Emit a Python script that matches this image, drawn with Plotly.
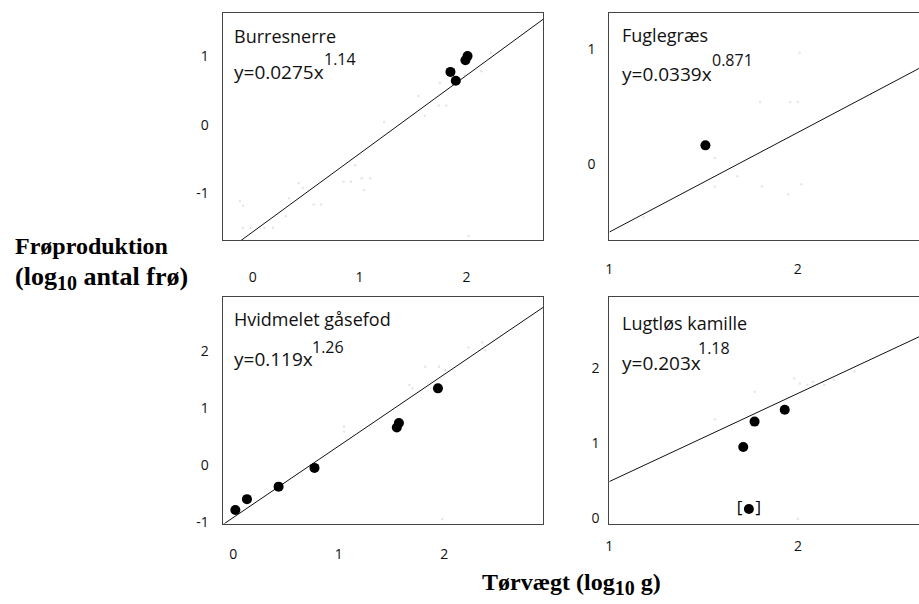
import numpy as np
import plotly.graph_objects as go

# ---- Panel data (log10 dry weight vs log10 seed production) ----
names = ["Burresnerre", "Fuglegræs", "Hvidmelet gåsefod", "Lugtløs kamille"]
coef_a = [0.0275, 0.0339, 0.119, 0.203]
coef_b = [1.14, 0.871, 1.26, 1.18]
coef_a_txt = ["0.0275", "0.0339", "0.119", "0.203"]
coef_b_txt = ["1.14", "0.871", "1.26", "1.18"]

# highlighted observations
burr_x = [1.85, 1.90, 1.99, 2.01]
burr_y = [0.77, 0.64, 0.94, 1.00]
fugl_x = [1.51]
fugl_y = [0.16]
hvid_x = [0.02, 0.13, 0.43, 0.77, 1.55, 1.57, 1.94]
hvid_y = [-0.79, -0.60, -0.38, -0.05, 0.66, 0.74, 1.35]
lugt_x = [1.71, 1.77, 1.93]
lugt_y = [0.95, 1.29, 1.45]
lugt_brk_x = [1.74]
lugt_brk_y = [0.12]

# background observations (faint)
burr_bg_x = [-0.12, -0.09, -0.09, -0.02, 0.11, 0.19, 0.31, 0.34, 0.43, 0.47, 0.57, 0.64,
             0.85, 0.92, 0.96, 1.02, 1.04, 1.10, 1.23, 1.55, 1.61, 1.74, 1.81, 1.75,
             1.98, 2.14, 2.23, 2.02]
burr_bg_y = [-1.11, -1.18, -1.50, -1.50, -1.50, -1.50, -1.33, -1.07, -0.85, -0.92, -1.16, -1.16,
             -0.83, -0.83, -0.59, -0.78, -0.95, -0.78, 0.04, 0.42, 0.13, 0.28, 0.28, 0.61,
             0.73, 0.78, 1.05, -1.62]
fugl_bg_x = [1.18, 1.56, 1.56, 1.68, 1.80, 1.81, 1.96, 2.00, 2.01, 1.95, 2.02, 2.39]
fugl_bg_y = [-0.47, 0.05, -0.20, -0.11, 0.54, -0.20, 0.54, 0.54, 0.97, -0.27, -0.18, 0.61]
hvid_bg_x = [1.05, 1.05, 1.67, 1.70, 1.82, 1.95, 2.01, 2.23, 2.36, 2.39, 1.98]
hvid_bg_y = [0.68, 0.59, 1.41, 1.35, 1.73, 1.73, 1.67, 2.07, 2.16, 2.02, -0.95]
lugt_bg_x = [1.56, 1.77, 1.98, 2.01, 2.05, 2.08, 2.14, 2.19, 2.30, 2.00]
lugt_bg_y = [1.32, 1.69, 1.87, 1.80, 1.78, 1.82, 1.78, 1.85, 1.96, -0.01]

# axis settings per panel
x_ranges = [[-0.28, 2.72], [1.0, 2.644], [-0.10, 2.94], [1.0, 2.642]]
y_ranges = [[-1.68, 1.63], [-0.67, 1.32], [-1.03, 2.96], [-0.075, 2.96]]
x_ticks = [[0, 1, 2], [1, 2], [0, 1, 2], [1, 2]]
y_ticks = [[-1, 0, 1], [0, 1], [-1, 0, 1, 2], [0, 1, 2]]

x_domains = [[0.2390, 0.5896], [0.6616, 1.0], [0.2390, 0.5896], [0.6616, 1.0]]
y_domains = [[0.5977, 0.9785], [0.5977, 0.9785], [0.1230, 0.5027], [0.1230, 0.5027]]
x_standoff = [24, 16, 18, 10]
y_standoff = [10, 10, 10, 6]

main_pts = [(burr_x, burr_y), (fugl_x, fugl_y), (hvid_x, hvid_y), (lugt_x, lugt_y)]
bg_pts = [(burr_bg_x, burr_bg_y), (fugl_bg_x, fugl_bg_y),
          (hvid_bg_x, hvid_bg_y), (lugt_bg_x, lugt_bg_y)]

SANS = "Open Sans, Noto Sans, sans-serif"
SERIF = "Liberation Serif, Times New Roman, serif"
TICK_FONT = dict(family=SANS, size=14, color="#111")
NAME_FONT = dict(family=SANS, size=18, color="#111")
EQ_FONT = dict(family=SANS, size=19, color="#111")
EXP_FONT = dict(family=SANS, size=16, color="#111")

fig = go.Figure()
layout = {}

for i in range(4):
    n = i + 1
    xa = "x" if n == 1 else f"x{n}"
    ya = "y" if n == 1 else f"y{n}"

    # faint background observations
    fig.add_trace(go.Scatter(x=bg_pts[i][0], y=bg_pts[i][1], mode="markers",
                             marker=dict(size=2.5, color="#e6e6e6"),
                             xaxis=xa, yaxis=ya, hoverinfo="skip"))

    # allometric fit: log10(y) = log10(a) + b*log10(x)
    lx = np.array(x_ranges[i])
    ly = np.log10(coef_a[i]) + coef_b[i] * lx
    fig.add_trace(go.Scatter(x=lx, y=ly, mode="lines",
                             line=dict(color="#111", width=1),
                             xaxis=xa, yaxis=ya))

    fig.add_trace(go.Scatter(x=main_pts[i][0], y=main_pts[i][1], mode="markers",
                             marker=dict(size=10, color="#000"),
                             xaxis=xa, yaxis=ya))

    right_panel = i in (1, 3)
    layout[f"xaxis{'' if n == 1 else n}"] = dict(
        domain=x_domains[i], range=x_ranges[i], anchor=ya,
        tickvals=x_ticks[i], ticktext=[str(v) for v in x_ticks[i]],
        showgrid=False, zeroline=False, showline=True, linecolor="#444",
        linewidth=1, mirror=True, ticks="", tickfont=TICK_FONT,
        ticklabelstandoff=x_standoff[i])
    layout[f"yaxis{'' if n == 1 else n}"] = dict(
        domain=y_domains[i], range=y_ranges[i], anchor=xa,
        tickvals=y_ticks[i], ticktext=[str(v) for v in y_ticks[i]],
        showgrid=False, zeroline=False, showline=True, linecolor="#444",
        linewidth=1, mirror=not right_panel, ticks="", tickfont=TICK_FONT,
        ticklabelstandoff=y_standoff[i])

# bracketed observation in the last panel
fig.add_trace(go.Scatter(x=lugt_brk_x, y=lugt_brk_y, mode="markers+text",
                         marker=dict(size=10, color="#000"),
                         text=["[   ]"], textposition="middle center",
                         textfont=dict(family=SANS, size=17, color="#000"),
                         xaxis="x4", yaxis="y4"))

annotations = []
W, H = 919, 604


def px(x, y):
    return x / W, 1 - y / H


# panel labels and fitted equations (pixel positions on the canvas)
name_pos = [(229, 36), (619, 35), (229, 323), (619, 327)]
eq_pos = [(229, 73), (619, 75), (229, 363), (619, 367)]
exp_pos = [(319, 60), (709, 61), (307, 351), (695, 352)]
for i in range(4):
    x, y = px(*name_pos[i])
    annotations.append(dict(x=x, y=y, xref="paper", yref="paper", text=names[i],
                            showarrow=False, xanchor="left", yanchor="middle",
                            font=NAME_FONT))
    x, y = px(*eq_pos[i])
    annotations.append(dict(x=x, y=y, xref="paper", yref="paper",
                            text=f"y={coef_a_txt[i]}x", showarrow=False,
                            xanchor="left", yanchor="middle", font=EQ_FONT))
    x, y = px(*exp_pos[i])
    annotations.append(dict(x=x, y=y, xref="paper", yref="paper",
                            text=coef_b_txt[i], showarrow=False,
                            xanchor="left", yanchor="middle", font=EXP_FONT))

SUB10 = '<sub><span style="font-size:20px">10</span></sub>'

# axis titles
x, y = px(9, 267)
annotations.append(dict(x=x, y=y, xref="paper", yref="paper",
                        text=("<b>Frøproduktion</b><br>"
                              f'<b><span style="font-size:26px">(log</span>{SUB10}'
                              '<span style="font-size:26px"> antal frø)</span></b>'),
                        showarrow=False, xanchor="left", yanchor="middle",
                        align="left",
                        font=dict(family=SERIF, size=24, color="#000")))
x, y = px(570, 591)
annotations.append(dict(x=x, y=y, xref="paper", yref="paper",
                        text=f"<b>Tørvægt (log{SUB10} g)</b>", showarrow=False,
                        xanchor="center", yanchor="middle",
                        font=dict(family=SERIF, size=24, color="#000")))

fig.update_layout(
    width=W, height=H, margin=dict(l=0, r=0, t=0, b=0),
    paper_bgcolor="white", plot_bgcolor="white", showlegend=False,
    annotations=annotations, **layout)

fig.write_html("out.html")
